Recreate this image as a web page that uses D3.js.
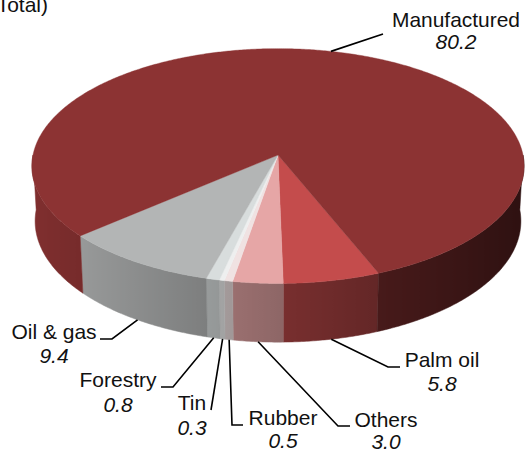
<!DOCTYPE html>
<html>
<head>
<meta charset="utf-8">
<script src="https://cdn.jsdelivr.net/npm/d3@7"></script>
<style>
  body { margin: 0; background: #fff; }
  svg { display: block; font-family: "Liberation Sans", Arial, sans-serif; }
</style>
</head>
<body>
<svg id="chart" width="525" height="451"></svg>
<script>
// export shares (% of total), listed clockwise starting from Palm oil
var categories = ["Palm oil", "Others", "Rubber", "Tin", "Forestry", "Oil & gas", "Manufactured"];
var shares = [5.8, 3.0, 0.5, 0.3, 0.8, 9.4, 80.2];
var unitLabel = "(% of Total)";

var topColors = ["#c44c4c", "#e6a6a6", "#f0e2e2", "#eeefef", "#d8dddd", "#b3b5b5", "#8c3333"];

// label layout: text centre / baselines and leader elbow points
var labelLayout = {
    "Manufactured": {x: 456, y: 27, vy: 49, path: [[383, 34]], rim: "top", fit: 128},
    "Oil & gas":    {x: 54,  y: 339, vy: 363, path: [[112, 339], [100, 339]]},
    "Forestry":     {x: 118, y: 387, vy: 412, path: [[173, 387], [161, 387]]},
    "Tin":          {x: 192, y: 410, vy: 435, path: [[211, 410]]},
    "Rubber":       {x: 283, y: 425, vy: 448, path: [[232, 425], [243, 425]]},
    "Others":       {x: 386, y: 427, vy: 449, path: [[338, 426], [350, 426]]},
    "Palm oil":     {x: 442, y: 367, vy: 391, path: [[388, 367], [400, 367]]}
};

var svg = d3.select("#chart");
var defs = svg.append("defs");
var cx = 278, cy = 155;

// simple perspective camera looking down at the pie
var sinE = 0.475, cosE = Math.sqrt(1 - sinE * sinE);
var D = 9.36, F = 245 * D, thick = 0.258;
var rad = Math.PI / 180;

function proj(theta, h) {
    var X = Math.cos(theta), Z = Math.sin(theta), Y = h;
    var depth = D - Z * cosE - Y * sinE;
    var up = Y * cosE - Z * sinE;
    return [cx + X * F / depth, cy - up * F / depth];
}

var pie = d3.pie().sort(null).value(function(d) { return d; })
    .startAngle(68 * rad).endAngle(428 * rad);
var arcs = pie(shares);

var line = d3.line();

function shade(theta) {
    return 0.62 - 0.3 * Math.cos(theta);
}

// visible (front) parts of each slice's outer wall
var walls = [];
arcs.forEach(function(a, i) {
    var k0 = Math.floor(a.startAngle / Math.PI), k1 = Math.ceil(a.endAngle / Math.PI);
    for (var k = k0; k < k1; k++) {
        if (k % 2 !== 0) continue; // [2nπ, (2n+1)π] is the front half
        var s = Math.max(a.startAngle, k * Math.PI), e = Math.min(a.endAngle, (k + 1) * Math.PI);
        if (e - s > 1e-6) walls.push({i: i, s: s, e: e});
    }
});

var wallG = svg.append("g").attr("class", "walls");
walls.forEach(function(w, j) {
    var n = Math.max(2, Math.ceil((w.e - w.s) / (0.5 * rad)));
    var ts = d3.range(n + 1).map(function(k) { return w.s + (w.e - w.s) * k / n; });
    var topPts = ts.map(function(t) { return proj(t, 0); });
    var botPts = ts.map(function(t) { return proj(t, -thick); }).reverse();
    var xs = topPts.map(function(p) { return p[0]; });
    var x0 = d3.min(xs), x1 = d3.max(xs);
    var base = d3.rgb(topColors[w.i]);
    var grad = defs.append("linearGradient")
        .attr("id", "wall" + j)
        .attr("gradientUnits", "userSpaceOnUse")
        .attr("x1", x0).attr("x2", x1).attr("y1", 0).attr("y2", 0);
    var stops = ts.map(function(t, k) {
        var f = shade(t);
        return {o: (xs[k] - x0) / Math.max(1e-6, x1 - x0),
                c: d3.rgb(base.r * f, base.g * f, base.b * f).formatHex()};
    }).sort(function(a, b) { return a.o - b.o; });
    grad.selectAll("stop").data(stops).enter().append("stop")
        .attr("offset", function(d) { return d.o; })
        .attr("stop-color", function(d) { return d.c; });
    wallG.append("path")
        .attr("d", line(topPts.concat(botPts)) + "Z")
        .attr("fill", "url(#wall" + j + ")")
        .attr("stroke", "url(#wall" + j + ")")
        .attr("stroke-width", 0.5);
});

// top faces
svg.append("g").attr("class", "tops")
    .selectAll("path").data(arcs).enter().append("path")
    .attr("d", function(a) {
        var pts = [[cx, cy]];
        var n = Math.max(2, Math.ceil((a.endAngle - a.startAngle) / (0.5 * rad)));
        for (var k = 0; k <= n; k++) {
            pts.push(proj(a.startAngle + (a.endAngle - a.startAngle) * k / n, 0));
        }
        return line(pts) + "Z";
    })
    .attr("fill", function(a, i) { return topColors[i]; })
    .attr("stroke", function(a, i) { return topColors[i]; })
    .attr("stroke-width", 0.4);

// leader lines
var leaders = svg.append("g").attr("class", "leaders");
arcs.forEach(function(a, i) {
    var lay = labelLayout[categories[i]];
    var mid = (a.startAngle + a.endAngle) / 2;
    var anchor = lay.rim === "top" ? proj(mid, 0) : proj(mid, -thick);
    leaders.append("path")
        .attr("d", line([anchor].concat(lay.path)))
        .attr("fill", "none")
        .attr("stroke", "#000")
        .attr("stroke-width", 1.6);
});

// labels
var labels = svg.append("g").attr("class", "labels")
    .attr("font-size", 21).attr("fill", "#111").attr("text-anchor", "middle");
categories.forEach(function(name, i) {
    var lay = labelLayout[name];
    var t = labels.append("text")
        .attr("x", lay.x).attr("y", lay.y)
        .text(name);
    if (lay.fit) t.attr("textLength", lay.fit).attr("lengthAdjust", "spacingAndGlyphs");
    labels.append("text")
        .attr("x", lay.x).attr("y", lay.vy)
        .attr("font-style", "italic")
        .text(shares[i].toFixed(1));
});

svg.append("text")
    .attr("x", 48).attr("y", 12)
    .attr("text-anchor", "end")
    .attr("font-size", 21)
    .attr("fill", "#111")
    .text(unitLabel);
</script>
</body>
</html>
